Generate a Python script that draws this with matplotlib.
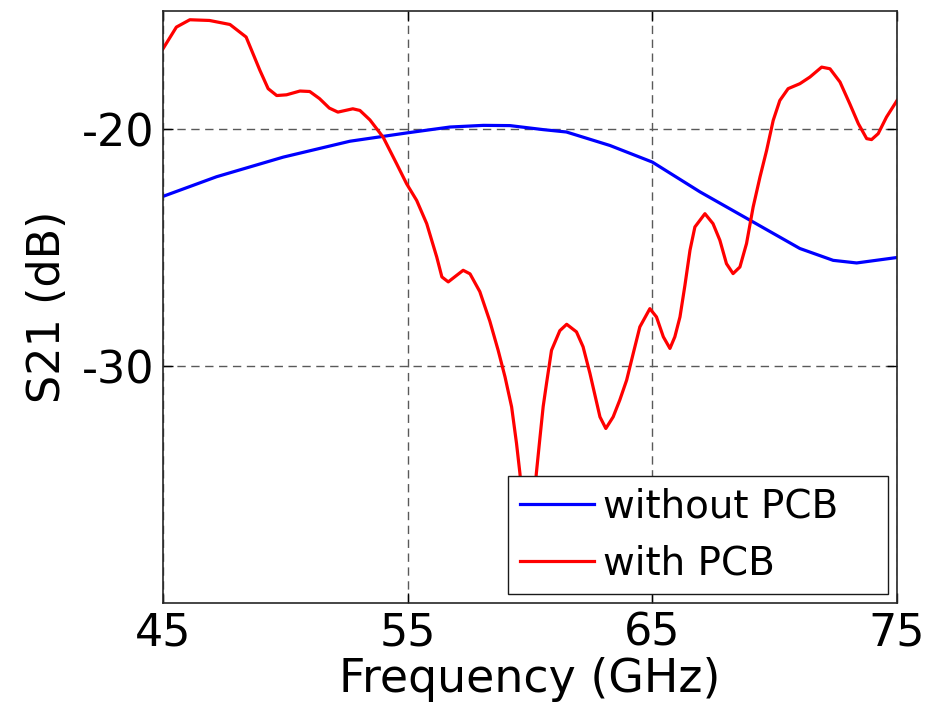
import matplotlib
matplotlib.use("Agg")
import matplotlib.pyplot as plt

freq_red = [45.0, 45.55, 46.1, 46.9, 47.74, 48.4, 48.96, 49.3, 49.65, 50.05, 50.6, 51.0,
            51.4, 51.8, 52.15, 52.76, 53.05, 53.46, 54.0, 54.55, 54.96, 55.37, 55.78,
            56.19, 56.4, 56.66, 57.27, 57.55, 57.95, 58.36, 58.7, 58.98, 59.25, 59.45,
            59.59, 59.75, 59.92, 60.1, 60.26, 60.4, 60.54, 60.68, 60.88, 61.22, 61.5,
            61.9, 62.17, 62.45, 62.86, 63.1, 63.4, 63.67, 63.95, 64.22, 64.49, 64.9,
            65.17, 65.45, 65.72, 65.92, 66.13, 66.33, 66.54, 66.74, 67.15, 67.48, 67.76,
            68.03, 68.3, 68.58, 68.85, 69.12, 69.4, 69.67, 69.94, 70.21, 70.55, 71.03,
            71.44, 71.92, 72.26, 72.67, 73.07, 73.42, 73.76, 73.96, 74.23, 74.57, 75.0]
s21_with_pcb = [-16.6, -15.68, -15.37, -15.4, -15.57, -16.1, -17.5, -18.28, -18.57, -18.54,
                -18.38, -18.4, -18.7, -19.1, -19.27, -19.13, -19.2, -19.6, -20.33, -21.45,
                -22.3, -23.0, -23.98, -25.39, -26.23, -26.44, -25.95, -26.1, -26.85, -28.1,
                -29.33, -30.45, -31.72, -33.26, -34.53, -36.5, -37.5, -36.5, -34.53, -33.1,
                -31.7, -30.7, -29.33, -28.5, -28.23, -28.55, -29.18, -30.3, -32.14, -32.63,
                -32.14, -31.43, -30.59, -29.46, -28.34, -27.57, -27.92, -28.76, -29.25,
                -28.76, -27.92, -26.6, -25.1, -24.12, -23.56, -23.98, -24.68, -25.67,
                -26.09, -25.81, -24.82, -23.28, -22.01, -20.89, -19.62, -18.78, -18.28,
                -18.07, -17.79, -17.37, -17.44, -18.0, -18.92, -19.76, -20.39, -20.43,
                -20.18, -19.48, -18.78]

freq_blue = [45.0, 47.19, 49.92, 52.64, 54.96, 56.73, 58.1, 59.18, 60.54, 61.49, 63.27,
             65.0, 66.95, 69.0, 71.03, 72.39, 73.35, 75.0]
s21_without_pcb = [-22.83, -22.0, -21.17, -20.5, -20.15, -19.9, -19.83, -19.84, -20.01,
                   -20.11, -20.68, -21.38, -22.64, -23.84, -25.03, -25.53, -25.64, -25.41]

xticks = [45, 55, 65, 75]
yticks = [-30, -20]
labels = ["without PCB", "with PCB"]

plt.rcParams['font.family'] = ['DejaVu Sans']
plt.rcParams['axes.unicode_minus'] = False

fig = plt.figure(figsize=(9.31, 7.09), dpi=100)
ax = fig.add_axes([0.175, 0.1495, 0.7885, 0.835])

ax.plot(freq_blue, s21_without_pcb, color=(0, 0, 1), lw=2.3, label=labels[0])
ax.plot(freq_red, s21_with_pcb, color=(1, 0, 0), lw=2.3, label=labels[1])

ax.set_xlim(45, 75)
ax.set_ylim(-40, -15)
ax.set_xticks(xticks)
ax.set_yticks(yticks)
ax.tick_params(direction='in', length=7, width=1, top=True, right=True,
               labelsize=32, pad=6)
ax.set_xlabel("Frequency (GHz)", fontsize=33, labelpad=2)
ax.set_ylabel("S21 (dB)", fontsize=32, labelpad=9)

ax.grid(True, color='0.35', linestyle=(0, (6, 4)), linewidth=1)
for sp in ax.spines.values():
    sp.set_linewidth(1.2)
    sp.set_color('0.15')

leg = ax.legend(loc='lower left', bbox_to_anchor=(0.47, 0.015, 0.5177, 0.2),
                mode='expand', fontsize=28,
                frameon=True, fancybox=False, framealpha=1, edgecolor='0.1',
                handlelength=1.9, handletextpad=0.25, labelspacing=0.48,
                borderpad=0.3, borderaxespad=0.0)
leg.get_frame().set_linewidth(1.0)

fig.savefig("out.png", dpi=100)
